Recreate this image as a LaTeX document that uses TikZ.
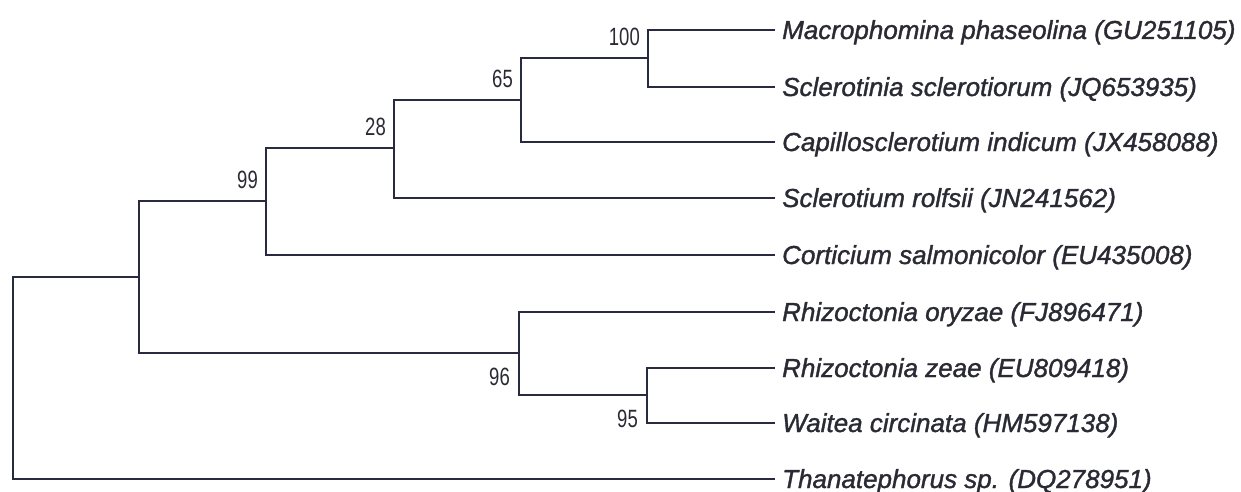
\documentclass[tikz,border=0pt]{standalone}
\usepackage{fontspec}
\setmainfont{Liberation Sans}
\newfontfamily\taxfont[ItalicFeatures={FakeBold=1.3}]{Liberation Sans}
\newfontfamily\bootfont[FakeStretch=0.74]{Liberation Sans}
\usepackage{xcolor}
\usetikzlibrary{positioning}
\definecolor{ColBranch}{RGB}{40,42,64}
\definecolor{ColText}{RGB}{42,42,52}

\begin{document}
\begin{tikzpicture}[
  x=1pt, y=-1pt,
  line join=miter,
  branch/.style={line width=2.4pt, ColBranch},
  taxon/.style={anchor=west, inner xsep=7pt, inner ysep=0pt, text height=18pt,
    text depth=0pt, text=ColText, font=\taxfont\fontsize{26}{30}\selectfont\itshape},
  boot/.style={inner sep=0pt, text=ColText, font=\bootfont\fontsize{25}{30}\selectfont}
]
  \useasboundingbox (0,0) rectangle (1241,492);

  % tips of the tree, top to bottom
  \foreach \nm/\yy/\txt in {
      mp/30/{Macrophomina phaseolina (GU251105)},
      ss/87/{Sclerotinia sclerotiorum (JQ653935)},
      ci/142/{Capillosclerotium indicum (JX458088)},
      sr/198/{Sclerotium rolfsii (JN241562)},
      cs/255/{Corticium salmonicolor (EU435008)},
      ro/312/{Rhizoctonia oryzae (FJ896471)},
      rz/368/{Rhizoctonia zeae (EU809418)},
      wc/423/{Waitea circinata (HM597138)},
      th/479/{Thanatephorus sp. (DQ278951)}}
    {\node[taxon] (\nm) at (775,\yy) {\txt};}

  % inner nodes
  \coordinate (n100)  at (648,58);
  \coordinate (n65)   at (521,100);
  \coordinate (n28)   at (394,148);
  \coordinate (n99)   at (266,201);
  \coordinate (n95)   at (647,395);
  \coordinate (n96)   at (519,353);
  \coordinate (ingrp) at (139,277);
  \coordinate (root)  at (13,378);

  % branches
  \draw[branch] (n100) |- (mp.west);
  \draw[branch] (n100) |- (ss.west);
  \draw[branch] (n65) |- (n100);
  \draw[branch] (n65) |- (ci.west);
  \draw[branch] (n28) |- (n65);
  \draw[branch] (n28) |- (sr.west);
  \draw[branch] (n99) |- (n28);
  \draw[branch] (n99) |- (cs.west);
  \draw[branch] (n95) |- (rz.west);
  \draw[branch] (n95) |- (wc.west);
  \draw[branch] (n96) |- (ro.west);
  \draw[branch] (n96) |- (n95);
  \draw[branch] (ingrp) |- (n99);
  \draw[branch] (ingrp) |- (n96);
  \draw[branch] (root) |- (ingrp);
  \draw[branch] (root) |- (th.west);

  % bootstrap values
  \node[boot, above left=12pt and 8pt of n100] (b100) {100};
  \node[boot, above left=12pt and 8pt of n65]  (b65)  {65};
  \node[boot, above left=12pt and 8pt of n28]  (b28)  {28};
  \node[boot, above left=12pt and 8pt of n99]  (b99)  {99};
  \node[boot, below left=15pt and 9pt of n96]  (b96)  {96};
  \node[boot, below left=15pt and 9pt of n95]  (b95)  {95};
\end{tikzpicture}
\end{document}
